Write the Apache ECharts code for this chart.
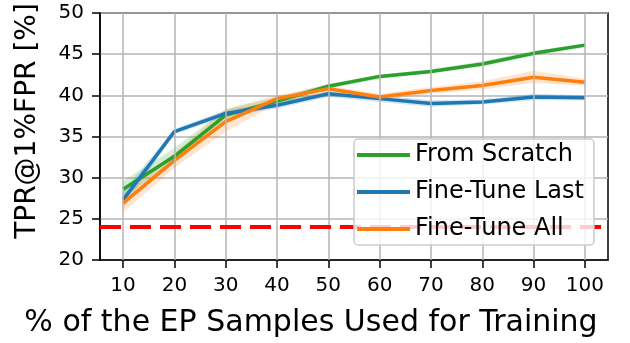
<!DOCTYPE html>
<html>
<head>
<meta charset="utf-8">
<script src="https://cdn.jsdelivr.net/npm/echarts@6/dist/echarts.min.js"></script>
<style>html,body{margin:0;padding:0;background:#fff;}#c{width:630px;height:343px;}</style>
</head>
<body>
<div id="c"></div>
<script>
const categories = [10, 20, 30, 40, 50, 60, 70, 80, 90, 100];
const yTicks = [20, 25, 30, 35, 40, 45, 50];
const scratchMean = [28.6, 32.6, 37.6, 39.3, 41.1, 42.3, 42.9, 43.8, 45.1, 46.1];
const scratchLow  = [27.6, 31.8, 37.0, 38.8, 40.8, 42.0, 42.7, 43.5, 44.8, 45.8];
const scratchHigh = [29.6, 33.6, 38.3, 39.8, 41.4, 42.5, 43.2, 44.1, 45.4, 46.3];
const lastMean = [27.3, 35.6, 37.8, 38.8, 40.2, 39.6, 39.0, 39.2, 39.8, 39.7];
const lastLow  = [26.3, 35.3, 37.4, 38.4, 39.8, 39.2, 38.6, 38.9, 39.4, 39.4];
const lastHigh = [28.3, 35.9, 38.2, 39.2, 40.5, 40.0, 39.4, 39.5, 40.2, 40.0];
const allMean = [26.9, 32.1, 36.8, 39.6, 40.8, 39.8, 40.6, 41.2, 42.2, 41.6];
const allLow  = [25.8, 31.2, 35.6, 39.0, 40.3, 39.5, 40.2, 40.7, 41.5, 41.2];
const allHigh = [28.0, 33.0, 38.3, 40.0, 41.2, 40.2, 41.0, 41.7, 43.0, 42.0];
const baseline = 24;
const names = ['From Scratch', 'Fine-Tune Last', 'Fine-Tune All'];
const colors = ['#2ca02c', '#1f77b4', '#ff7f0e'];
const bandColors = ['rgba(44,160,44,0.2)', 'rgba(31,119,180,0.2)', 'rgba(255,127,14,0.2)'];

const groups = [
  [scratchMean, scratchLow, scratchHigh],
  [lastMean, lastLow, lastHigh],
  [allMean, allLow, allHigh]
];

const series = [];
// vertical grid lines helper
series.push({
  type: 'line', name: '_grid', data: [], silent: true, z: 0,
  markLine: {
    silent: true, symbol: 'none', label: {show: false}, animation: false,
    lineStyle: {color: '#b5b5b5', width: 1.5, type: 'solid'},
    data: categories.map(c => ({xAxis: c}))
  }
});
groups.forEach((g, i) => {
  const [m, lo, hi] = g;
  series.push({
    type: 'custom', name: '_band' + i, silent: true, z: 1,
    data: [[categories[0], lo[0]]],
    renderItem: function (params, api) {
      const pts = [];
      categories.forEach((c, k) => pts.push(api.coord([c, hi[k]])));
      for (let k = categories.length - 1; k >= 0; k--) pts.push(api.coord([categories[k], lo[k]]));
      return {type: 'polygon', shape: {points: pts}, style: {fill: bandColors[i]}};
    }
  });
});
groups.forEach((g, i) => {
  series.push({
    type: 'line', name: names[i], z: 3,
    data: categories.map((c, k) => [c, g[0][k]]),
    symbol: 'none', color: colors[i],
    lineStyle: {color: colors[i], width: 3.5}
  });
});
series.push({
  type: 'line', name: '_base', data: [], silent: true, z: 2,
  markLine: {
    silent: true, symbol: 'none', label: {show: false},
    lineStyle: {color: '#ff0000', width: 4, type: [21, 9]},
    data: [{yAxis: baseline}]
  }
});

const chart = echarts.init(document.getElementById('c'), null, {renderer: 'canvas'});
chart.setOption({
  animation: false,
  backgroundColor: '#fff',
  grid: {left: 100, right: 22, top: 13, bottom: 83, show: true, borderColor: '#000', borderWidth: 1.5, backgroundColor: 'transparent'},
  xAxis: {
    type: 'value', min: 5.5, max: 104.5,
    name: '% of the EP Samples Used for Training', nameLocation: 'middle', nameGap: 48,
    nameTextStyle: {fontFamily: 'DejaVu Sans', fontSize: 30, color: '#000', padding: [0, 86, 0, 0]},
    axisLine: {show: true, lineStyle: {color: '#000', width: 1.5}},
    axisTick: {show: true, length: 8, lineStyle: {color: '#000', width: 1.5}, customValues: categories},
    axisLabel: {fontFamily: 'DejaVu Sans', fontSize: 20, color: '#000', margin: 16, customValues: categories},
    splitLine: {show: false}
  },
  yAxis: {
    type: 'value', min: 20, max: 50, interval: 5,
    name: 'TPR@1%FPR [%]', nameLocation: 'middle', nameGap: 58, nameRotate: 90,
    nameTextStyle: {fontFamily: 'DejaVu Sans', fontSize: 28, color: '#000', padding: [0, 0, 0, 31]},
    axisLine: {show: true, lineStyle: {color: '#000', width: 1.5}},
    axisTick: {show: true, length: 8, lineStyle: {color: '#000', width: 1.5}},
    axisLabel: {fontFamily: 'DejaVu Sans', fontSize: 20, color: '#000', margin: 16},
    splitLine: {show: true, lineStyle: {color: '#b5b5b5', width: 1.5}}
  },
  legend: {
    data: names, orient: 'vertical', left: 354, top: 139, z: 20,
    icon: 'rect', itemWidth: 53, itemHeight: 4, itemGap: 13,
    padding: [4, 10, 4, 3],
    backgroundColor: 'rgba(255,255,255,0.8)', borderColor: '#cccccc', borderWidth: 1.5, borderRadius: 4,
    textStyle: {fontFamily: 'DejaVu Sans', fontSize: 24, color: '#000', lineHeight: 24}
  },
  series: series
});
</script>
</body>
</html>
